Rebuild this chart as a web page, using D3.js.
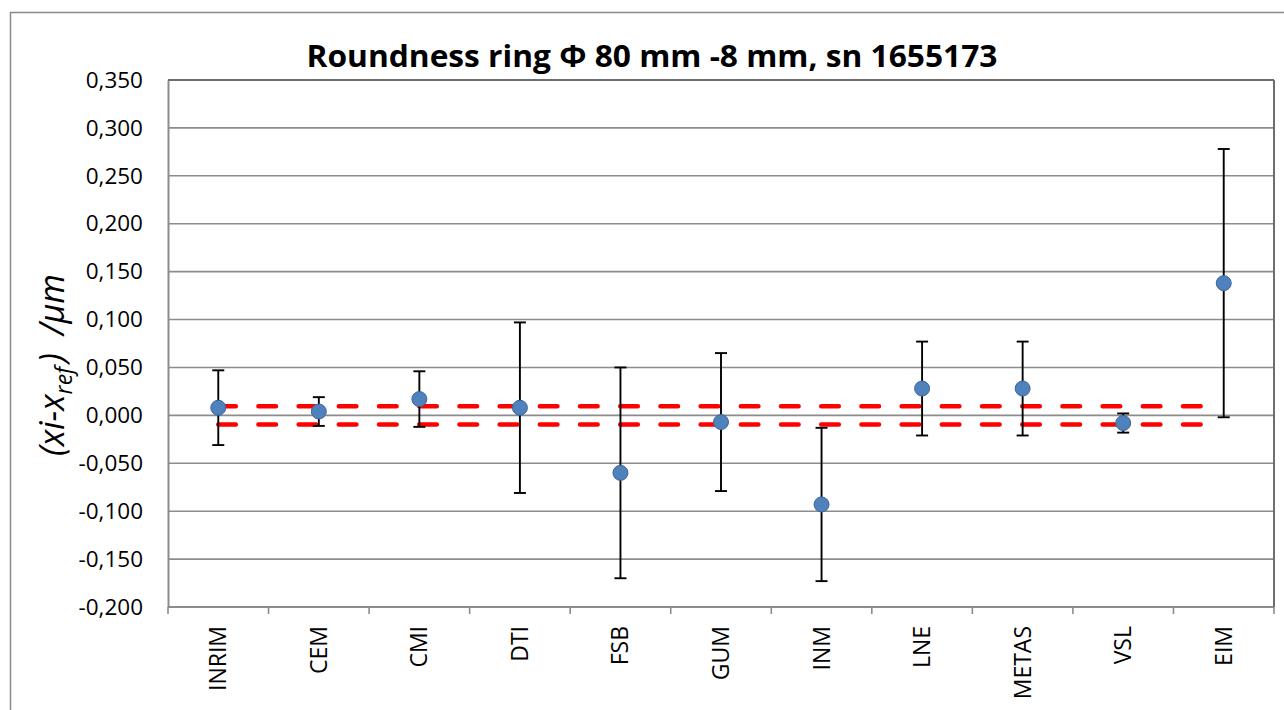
<!DOCTYPE html>
<html>
<head>
<meta charset="utf-8">
<script src="https://cdn.jsdelivr.net/npm/d3@7"></script>
<style>
  html, body { margin: 0; padding: 0; background: #fff; }
  svg { display: block; }
  text { font-family: "Open Sans", "Liberation Sans", sans-serif; fill: #000; }
</style>
</head>
<body>
<svg id="chart" width="1284" height="710"></svg>
<script>
// Laboratories in the comparison
const labs = ["INRIM", "CEM", "CMI", "DTI", "FSB", "GUM", "INM", "LNE", "METAS", "VSL", "EIM"];
// Deviation from reference value (µm)
const deviation = [0.008, 0.004, 0.017, 0.008, -0.060, -0.007, -0.093, 0.028, 0.028, -0.008, 0.138];
// Expanded uncertainty (µm), drawn as symmetric error bars
const uncertainty = [0.039, 0.015, 0.029, 0.089, 0.110, 0.072, 0.080, 0.049, 0.049, 0.010, 0.140];
// Reference value uncertainty band (µm)
const refBand = [0.0095, -0.0095];
// Y axis ticks
const yTicks = [-0.200, -0.150, -0.100, -0.050, 0.000, 0.050, 0.100, 0.150, 0.200, 0.250, 0.300, 0.350];

const svg = d3.select("#chart");
const margin = { left: 168, top: 80, right: 1274, bottom: 607 };

// Chart frame
svg.append("rect")
  .attr("x", 10.5).attr("y", 12.5)
  .attr("width", 1300).attr("height", 720)
  .attr("fill", "#fff").attr("stroke", "#8a8a8a").attr("stroke-width", 1.5);

const x = d3.scaleBand().domain(labs).range([margin.left, margin.right]).padding(0);
const y = d3.scaleLinear().domain([-0.2, 0.35]).range([margin.bottom, margin.top]);
const cx = d => x(d) + x.bandwidth() / 2;

const fmt = v => d3.format(".3f")(v).replace(".", ",").replace("−", "-");

// Horizontal gridlines
svg.append("g")
  .selectAll("line")
  .data(yTicks)
  .join("line")
  .attr("x1", margin.left).attr("x2", margin.right)
  .attr("y1", d => y(d)).attr("y2", d => y(d))
  .attr("stroke", "#8c8c8c").attr("stroke-width", 1.6);

// Y axis
const yAxis = svg.append("g")
  .attr("transform", `translate(${margin.left},0)`)
  .call(d3.axisLeft(y).tickValues(yTicks).tickFormat(fmt).tickSize(0).tickPadding(25));
yAxis.select(".domain").attr("stroke", "#8c8c8c").attr("stroke-width", 2);
yAxis.selectAll("text").attr("font-size", 22.5).attr("font-family", "Open Sans");

// X axis with category boundary ticks
const xAxisG = svg.append("g").attr("transform", `translate(0,${margin.bottom})`);
xAxisG.append("line")
  .attr("x1", margin.left).attr("x2", margin.right)
  .attr("stroke", "#8c8c8c").attr("stroke-width", 2);
const bounds = labs.map(d => x(d)).concat([margin.right]);
xAxisG.selectAll("line.tick")
  .data(bounds)
  .join("line")
  .attr("class", "tick")
  .attr("x1", d => d).attr("x2", d => d)
  .attr("y1", 0).attr("y2", 7)
  .attr("stroke", "#8c8c8c").attr("stroke-width", 1.6);
xAxisG.selectAll("text")
  .data(labs)
  .join("text")
  .attr("transform", d => `translate(${cx(d) + 8},19) rotate(-90)`)
  .attr("text-anchor", "end")
  .attr("font-size", 23)
  .text(d => d);

// Right and top plot border
svg.append("line")
  .attr("x1", margin.right).attr("x2", margin.right)
  .attr("y1", margin.top).attr("y2", margin.bottom)
  .attr("stroke", "#6e6e6e").attr("stroke-width", 2);
svg.append("line")
  .attr("x1", margin.left).attr("x2", margin.right)
  .attr("y1", margin.top).attr("y2", margin.top)
  .attr("stroke", "#6e6e6e").attr("stroke-width", 2);

// Reference band (dashed red), from the first to the last laboratory
const bandLine = d3.line().x(d => d[0]).y(d => y(d[1]));
svg.append("g")
  .selectAll("path")
  .data(refBand)
  .join("path")
  .attr("d", v => bandLine([[cx(labs[0]), v], [cx(labs[labs.length - 1]) - 6, v]]))
  .attr("fill", "none")
  .attr("stroke", "#ff0000")
  .attr("stroke-width", 4.6)
  .attr("stroke-linecap", "round")
  .attr("stroke-dasharray", "17.5,22.7");

// Error bars
const pts = labs.map((l, i) => ({ lab: l, v: deviation[i], u: uncertainty[i] }));
const eb = svg.append("g").attr("stroke", "#000").attr("stroke-width", 1.9);
eb.selectAll("line.v").data(pts).join("line").attr("class", "v")
  .attr("x1", d => cx(d.lab)).attr("x2", d => cx(d.lab))
  .attr("y1", d => y(d.v + d.u)).attr("y2", d => y(d.v - d.u));
eb.selectAll("line.t").data(pts).join("line").attr("class", "t")
  .attr("x1", d => cx(d.lab) - 6).attr("x2", d => cx(d.lab) + 6)
  .attr("y1", d => y(d.v + d.u)).attr("y2", d => y(d.v + d.u));
eb.selectAll("line.b").data(pts).join("line").attr("class", "b")
  .attr("x1", d => cx(d.lab) - 6).attr("x2", d => cx(d.lab) + 6)
  .attr("y1", d => y(d.v - d.u)).attr("y2", d => y(d.v - d.u));

// Measurement points
svg.append("g")
  .selectAll("circle")
  .data(pts)
  .join("circle")
  .attr("cx", d => cx(d.lab)).attr("cy", d => y(d.v))
  .attr("r", 7.5)
  .attr("fill", "#4f81bd").attr("stroke", "#3f669a").attr("stroke-width", 1);

// Title
svg.append("text")
  .attr("x", 652).attr("y", 67)
  .attr("text-anchor", "middle")
  .attr("font-size", 30).attr("font-weight", "bold")
  .attr("textLength", 691).attr("lengthAdjust", "spacingAndGlyphs")
  .text("Roundness ring Φ 80 mm -8 mm, sn 1655173");

// Y axis title
const yt = svg.append("text")
  .attr("transform", "translate(64,365) rotate(-90)")
  .attr("text-anchor", "middle")
  .attr("font-size", 34).attr("font-style", "italic");
yt.append("tspan").text("(xi-x");
yt.append("tspan").attr("font-size", 23).attr("dy", 8).text("ref");
yt.append("tspan").attr("dy", -8).attr("dx", 4).text(")\u00a0\u00a0/µm");
</script>
</body>
</html>
